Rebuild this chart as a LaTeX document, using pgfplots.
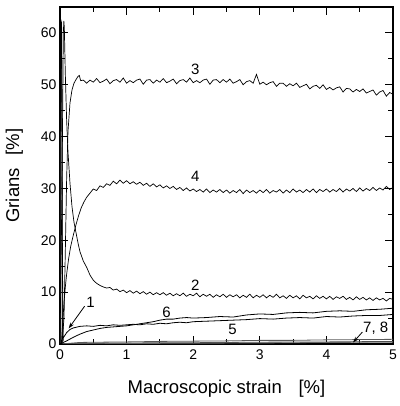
\documentclass[border=0pt]{standalone}
\usepackage{pgfplots}
\pgfplotsset{compat=1.18}
\usetikzlibrary{arrows.meta}
\usepackage{fontspec}
\setmainfont{Liberation Sans}
\begin{document}
\begin{tikzpicture}
\begin{axis}[
  scale only axis, width=333pt, height=337pt,
  xmin=0, xmax=5, ymin=0, ymax=65,
  xtick={0,1,2,3,4,5}, ytick={0,10,20,30,40,50,60},
  minor x tick num=1, minor y tick num=1,
  tick align=inside, xtick pos=both, ytick pos=both,
  major tick length=8pt, minor tick length=5pt,
  every tick/.style={black, line width=1pt},
  axis line style={line width=1.3pt},
  ticklabel style={font=\fontsize{14}{15}\selectfont},
  xticklabel style={yshift=-2pt},
  /pgf/number format/assume math mode=true,
  xlabel={Macroscopic strain\hspace{0.9em}[\%]},
  ylabel={Grians\hspace{0.7em}[\%]},
  label style={font=\fontsize{18.5}{20}\selectfont},
  xlabel style={yshift=-14pt},
  ylabel style={yshift=11pt},
  clip=true,
]
\coordinate (bl) at (rel axis cs:0,0);
\coordinate (tr) at (rel axis cs:1,1);
% bottom curves 5, 7, 8 (with start spikes)
\addplot[gray!70!black, line width=0.8pt] coordinates {(0,0)(0.004,61)(0.01,62)(0.016,0)(0.3,0.3)(0.6,0.35)(1,0.4)(1.5,0.5)(2,0.55)(2.5,0.6)(3,0.7)(3.5,0.7)(4,0.8)(4.5,0.85)(5,0.9)};
\addplot[gray!60!black, line width=0.8pt] coordinates {(0,0)(0.012,62)(0.025,61)(0.04,0)(0.5,0.15)(1,0.2)(2,0.25)(3,0.35)(4,0.4)(5,0.5)};
\addplot[gray!80!black, line width=0.8pt] coordinates {(0,0)(1,0.1)(2,0.15)(3,0.2)(4,0.3)(5,0.35)};
% curve 1
\addplot[black, line width=0.8pt] coordinates {(0,0)(0.008,62.7)(0.022,62)(0.035,20)(0.045,0.5)(0.05,1.2)(0.1,2.2)(0.15,2.8)(0.2,3.1)(0.3,3.4)(0.4,3.5)(0.5,3.4)(0.6,3.6)(0.7,3.5)(0.8,3.7)(0.9,3.6)(1.0,3.7)(1.1,3.8)(1.2,3.7)(1.3,3.9)(1.4,3.8)(1.5,4.0)(1.6,3.9)(1.7,4.1)(1.8,4.2)(1.9,4.1)(2.0,4.3)(2.2,4.4)(2.4,4.5)(2.6,4.6)(2.8,4.7)(3.0,4.9)(3.2,4.8)(3.4,5.0)(3.6,5.1)(3.8,5.0)(4.0,5.3)(4.2,5.2)(4.4,5.4)(4.6,5.5)(4.8,5.5)(5.0,5.7)};
% curve 6
\addplot[black, line width=0.8pt] coordinates {(0,0)(0.1,0.6)(0.2,1.3)(0.3,1.9)(0.4,2.4)(0.5,2.7)(0.6,3.0)(0.7,3.2)(0.8,3.3)(0.9,3.4)(1.0,3.5)(1.1,3.7)(1.2,3.9)(1.3,4.1)(1.4,4.3)(1.5,4.6)(1.6,4.8)(1.7,4.8)(1.8,5.0)(1.9,5.1)(2.0,5.0)(2.2,5.1)(2.4,5.3)(2.6,5.2)(2.8,5.6)(3.0,5.8)(3.2,5.7)(3.4,6.0)(3.6,6.1)(3.8,6.0)(4.0,6.3)(4.2,6.4)(4.4,6.3)(4.6,6.6)(4.8,6.7)(5.0,6.9)};
% curve 2
\addplot[black, line width=0.7pt] coordinates {(0,0)(0.03,30)(0.05,60)(0.058,62.3)(0.065,61)(0.08,52)(0.1,43)(0.12,37)(0.15,31)(0.18,26.5)(0.21,23.5)(0.24,21.5)(0.27,19.5)(0.3,17.8)(0.35,16)(0.4,14.8)(0.45,13.3)(0.5,12.3)(0.55,11.7)(0.6,11.3)(0.65,11.0)(0.7,10.8)
(0.75,10.9)(0.80,10.4)(0.85,10.6)(0.90,10.1)(0.95,10.4)(1.00,9.9)(1.05,10.3)(1.10,9.8)(1.15,10.2)(1.20,9.7)(1.25,10.1)(1.30,9.6)(1.35,10.0)(1.40,9.5)(1.45,9.9)(1.50,9.5)(1.55,9.9)(1.60,9.4)(1.65,9.8)(1.70,9.3)(1.75,9.7)(1.80,9.3)(1.85,9.8)(1.90,9.2)(1.95,9.6)(2.00,9.3)(2.05,9.8)(2.10,9.1)(2.15,9.6)(2.20,9.2)(2.25,9.6)(2.30,9.0)(2.35,9.5)(2.40,9.1)(2.45,9.6)(2.50,9.0)(2.55,9.5)(2.60,9.1)(2.65,9.5)(2.70,8.9)(2.75,9.4)(2.80,9.0)(2.85,9.6)(2.90,8.9)(2.95,9.4)(3.00,9.0)(3.05,9.5)(3.10,8.9)(3.15,9.4)(3.20,9.0)(3.25,9.6)(3.30,8.9)(3.35,9.3)(3.40,8.8)(3.45,9.4)(3.50,8.9)(3.55,9.3)(3.60,8.7)(3.65,9.4)(3.70,8.9)(3.75,9.2)(3.80,8.7)(3.85,9.3)(3.90,8.8)(3.95,9.2)(4.00,8.7)(4.05,9.2)(4.10,8.6)(4.15,9.1)(4.20,8.8)(4.25,9.2)(4.30,8.6)(4.35,9.0)(4.40,8.5)(4.45,9.1)(4.50,8.6)(4.55,9.0)(4.60,8.5)(4.65,8.9)(4.70,8.4)(4.75,8.9)(4.80,8.5)(4.85,8.8)(4.90,8.3)(4.95,8.8)(5.00,8.6)};
% curve 3
\addplot[black, line width=0.7pt] coordinates {(0,0)(0.03,0)(0.06,5)(0.08,18)(0.1,32)(0.12,41)(0.15,46.5)(0.18,49)(0.21,50.3)(0.24,51.0)(0.27,51.6)(0.29,51.8)(0.31,50.8)
(0.35,50.9)(0.40,50.3)(0.45,50.9)(0.50,50.5)(0.55,51.2)(0.60,50.4)(0.65,50.7)(0.70,51.1)(0.75,50.2)(0.80,50.8)(0.85,51.0)(0.90,50.5)(0.95,51.3)(1.00,50.3)(1.05,50.8)(1.10,50.4)(1.15,50.9)(1.20,51.1)(1.25,50.1)(1.30,50.9)(1.35,51.0)(1.40,50.3)(1.45,50.9)(1.50,50.5)(1.55,51.2)(1.60,50.4)(1.65,50.7)(1.70,51.1)(1.75,50.2)(1.80,50.8)(1.85,51.0)(1.90,50.5)(1.95,51.3)(2.00,50.4)(2.05,50.8)(2.10,50.4)(2.15,50.9)(2.20,51.1)(2.25,50.1)(2.30,50.9)(2.35,51.0)(2.40,50.4)(2.45,51.0)(2.50,50.5)(2.55,51.1)(2.60,50.3)(2.65,50.6)(2.70,51.0)(2.75,50.0)(2.80,50.6)(2.85,50.8)(2.90,50.3)(2.95,52.0)(3.00,50.1)(3.05,50.5)(3.10,50.0)(3.15,50.4)(3.20,50.6)(3.25,49.7)(3.30,50.3)(3.35,50.3)(3.40,49.7)(3.45,50.2)(3.50,49.8)(3.55,50.3)(3.60,49.5)(3.65,49.8)(3.70,50.1)(3.75,49.2)(3.80,49.7)(3.85,49.9)(3.90,49.3)(3.95,50.0)(4.00,49.1)(4.05,49.5)(4.10,49.0)(4.15,49.4)(4.20,49.6)(4.25,48.6)(4.30,49.3)(4.35,49.2)(4.40,48.6)(4.45,49.1)(4.50,48.7)(4.55,49.2)(4.60,48.4)(4.65,48.7)(4.70,49.0)(4.75,48.0)(4.80,48.6)(4.85,48.9)(4.90,47.8)(4.95,48.5)(5.00,48.2)};
% curve 4
\addplot[black, line width=0.7pt] coordinates {(0,0)(0.02,0)(0.04,4)(0.06,8)(0.08,11)(0.1,13.5)(0.13,16.5)(0.16,18.8)(0.2,21)(0.24,23)(0.28,24.8)(0.32,26.3)(0.36,27.4)(0.4,28.3)
(0.45,29.1)(0.50,29.9)(0.55,29.6)(0.60,30.5)(0.65,30.2)(0.70,30.9)(0.75,30.6)(0.80,31.4)(0.85,30.9)(0.90,31.6)(0.95,31.0)(1.00,31.5)(1.05,30.9)(1.10,31.3)(1.15,30.8)(1.20,31.2)(1.25,30.6)(1.30,31.0)(1.35,30.4)(1.40,30.9)(1.45,30.3)(1.50,30.7)(1.55,30.1)(1.60,30.5)(1.65,30.0)(1.70,30.4)(1.75,29.8)(1.80,30.2)(1.85,29.6)(1.90,30.1)(1.95,29.5)(2.00,29.9)(2.05,29.4)(2.10,29.8)(2.15,29.3)(2.20,29.9)(2.25,29.2)(2.30,29.7)(2.35,29.3)(2.40,29.8)(2.45,29.2)(2.50,29.7)(2.55,29.1)(2.60,29.6)(2.65,29.2)(2.70,29.8)(2.75,29.0)(2.80,29.7)(2.85,29.2)(2.90,29.6)(2.95,29.1)(3.00,29.7)(3.05,29.2)(3.10,29.8)(3.15,29.1)(3.20,29.6)(3.25,29.3)(3.30,29.8)(3.35,29.1)(3.40,29.7)(3.45,29.2)(3.50,29.9)(3.55,29.3)(3.60,29.7)(3.65,29.2)(3.70,29.8)(3.75,29.3)(3.80,29.9)(3.85,29.2)(3.90,29.8)(3.95,29.4)(4.00,29.9)(4.05,29.3)(4.10,29.8)(4.15,29.4)(4.20,30.0)(4.25,29.3)(4.30,29.9)(4.35,29.5)(4.40,30.0)(4.45,29.4)(4.50,30.1)(4.55,29.5)(4.60,30.0)(4.65,29.6)(4.70,30.2)(4.75,29.6)(4.80,30.1)(4.85,29.7)(4.90,30.4)(4.95,29.8)(5.00,30.2)};
% annotations
\node[font=\fontsize{15}{16}\selectfont] at (axis cs:2.03,53) {3};
\node[font=\fontsize{15}{16}\selectfont] at (axis cs:2.03,32.3) {4};
\node[font=\fontsize{15}{16}\selectfont] at (axis cs:2.03,11.3) {2};
\node[font=\fontsize{15}{16}\selectfont] at (axis cs:1.6,6.2) {6};
\node[font=\fontsize{15}{16}\selectfont] at (axis cs:2.59,2.9) {5};
\node[font=\fontsize{15}{16}\selectfont] at (axis cs:0.46,8.0) {1};
\node[font=\fontsize{15}{16}\selectfont] at (axis cs:4.74,3.1) {7, 8};
\draw[-{Stealth[length=6pt,width=4pt]}, line width=0.8pt] (axis cs:0.37,7.3) -- (axis cs:0.13,3.0);
\draw[-{Stealth[length=6pt,width=4pt]}, line width=0.8pt] (axis cs:4.54,2.3) -- (axis cs:4.4,0.3);
\end{axis}
\pgfresetboundingbox
\path ([shift={(-60pt,-62pt)}]bl) rectangle ([shift={(6pt,7pt)}]tr);
\end{tikzpicture}
\end{document}
